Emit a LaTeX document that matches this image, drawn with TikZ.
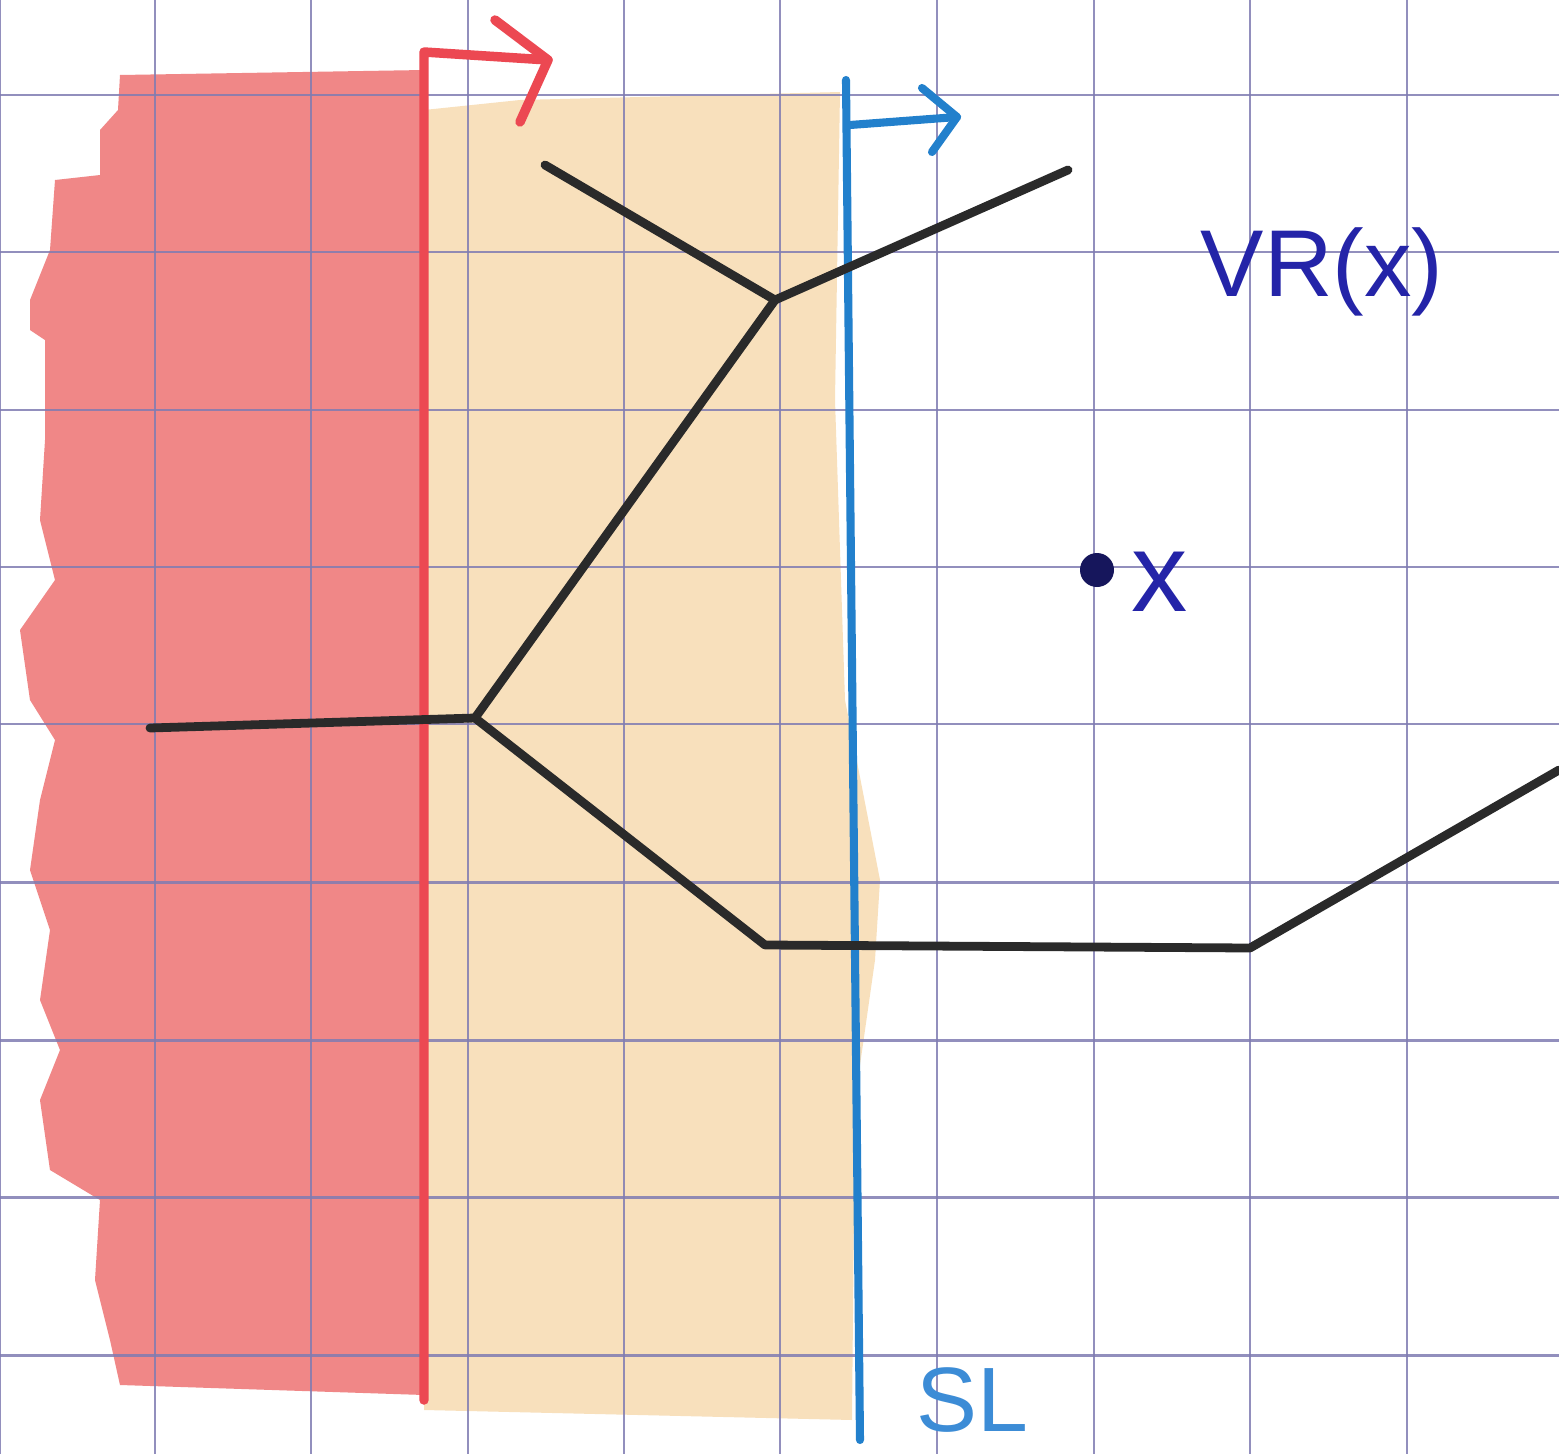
\documentclass[tikz,border=0pt]{standalone}
\usepackage{fontspec}
\setmainfont{Liberation Sans}
\definecolor{gridc}{RGB}{128,124,178}
\definecolor{redfill}{RGB}{240,135,135}
\definecolor{orfill}{RGB}{248,224,188}
\definecolor{redline}{RGB}{236,72,82}
\definecolor{blueline}{RGB}{34,128,204}
\definecolor{inkblue}{RGB}{36,36,168}
\definecolor{navy}{RGB}{22,22,92}
\definecolor{slblue}{RGB}{60,140,214}
\definecolor{graph}{RGB}{42,42,42}
\tikzset{
  gridline/.style={draw=gridc, line width=0.85pt, opacity=0.85},
  edge/.style={draw=graph, line width=2.5pt, line join=round, line cap=round},
  redpen/.style={draw=redline, line width=2.7pt, line join=round, line cap=round},
  bluepen/.style={draw=blueline, line width=2.3pt, line join=round, line cap=round},
}
\begin{document}
\begin{tikzpicture}[x=0.01cm, y=-0.01cm]
\useasboundingbox (0,0) rectangle (1559,1454);
\fill[white] (0,0) rectangle (1559,1454);
% coloured regions
\fill[redfill] (120,75) -- (424,70) -- (424,1395) -- (120,1385) -- (110,1340) -- (95,1280) -- (100,1200) -- (50,1170) -- (40,1100) -- (60,1050) -- (40,1000) -- (50,930) -- (30,870) -- (40,800) -- (55,740) -- (30,700) -- (20,630) -- (55,580) -- (40,520) -- (45,440) -- (45,340) -- (30,330) -- (30,300) -- (50,250) -- (55,180) -- (100,175) -- (100,130) -- (118,110) -- cycle;
\fill[orfill] (424,110) -- (520,100) -- (840,92) -- (835,400) -- (845,700) -- (880,880) -- (875,960) -- (855,1100) -- (852,1420) -- (424,1410) -- cycle;
% grid
\foreach \gx in {0,155,311,468,624,780,937,1094,1250,1407}
  \draw[gridline] (\gx,0) -- (\gx,1454);
\foreach \gy in {95,252,410,567,724,882,1040,1197,1355}
  \draw[gridline] (0,\gy) -- (1559,\gy);
% red sweep line with arrow
\coordinate (rb) at (424,1400);
\coordinate (rt) at (424,52);
\coordinate (rh) at (548,60);
\coordinate (rc1) at (495,20);
\coordinate (rc2) at (520,122);
\draw[redpen] (rb) -- (rt) -- (rh);
\draw[redpen] (rc1) -- (rh) -- (rc2);
% blue sweep line SL with arrow
\coordinate (bt) at (846,80);
\coordinate (bb) at (860,1440);
\coordinate (bs) at (850,125);
\coordinate (bh) at (957,117);
\coordinate (bc1) at (922,88);
\coordinate (bc2) at (932,152);
\draw[bluepen] (bt) -- (bb);
\draw[bluepen] (bs) -- (bh);
\draw[bluepen] (bc1) -- (bh) -- (bc2);
% Voronoi edges
\coordinate (v1) at (545,165);
\coordinate (v2) at (775,300);
\coordinate (v3) at (1068,170);
\coordinate (v4) at (475,718);
\coordinate (v5) at (150,728);
\coordinate (v6) at (765,945);
\coordinate (v7) at (1250,948);
\coordinate (v8) at (1559,770);
\draw[edge] (v1) -- (v2) -- (v3);
\draw[edge] (v2) -- (v4);
\draw[edge] (v5) -- (v4);
\draw[edge] (v4) -- (v6) -- (v7) -- (v8);
% site x
\fill[navy] (1097,570) circle (17);
\node[text=inkblue, font=\fontsize{32}{32}\selectfont] (xl) at (1160,582) {x};
\node[text=inkblue, font=\fontsize{27}{30}\selectfont] (vr) at (1322,272) {VR(x)};
\node[text=slblue, font=\fontsize{26}{28}\selectfont] (sl) at (972,1400) {SL};
\end{tikzpicture}
\end{document}
